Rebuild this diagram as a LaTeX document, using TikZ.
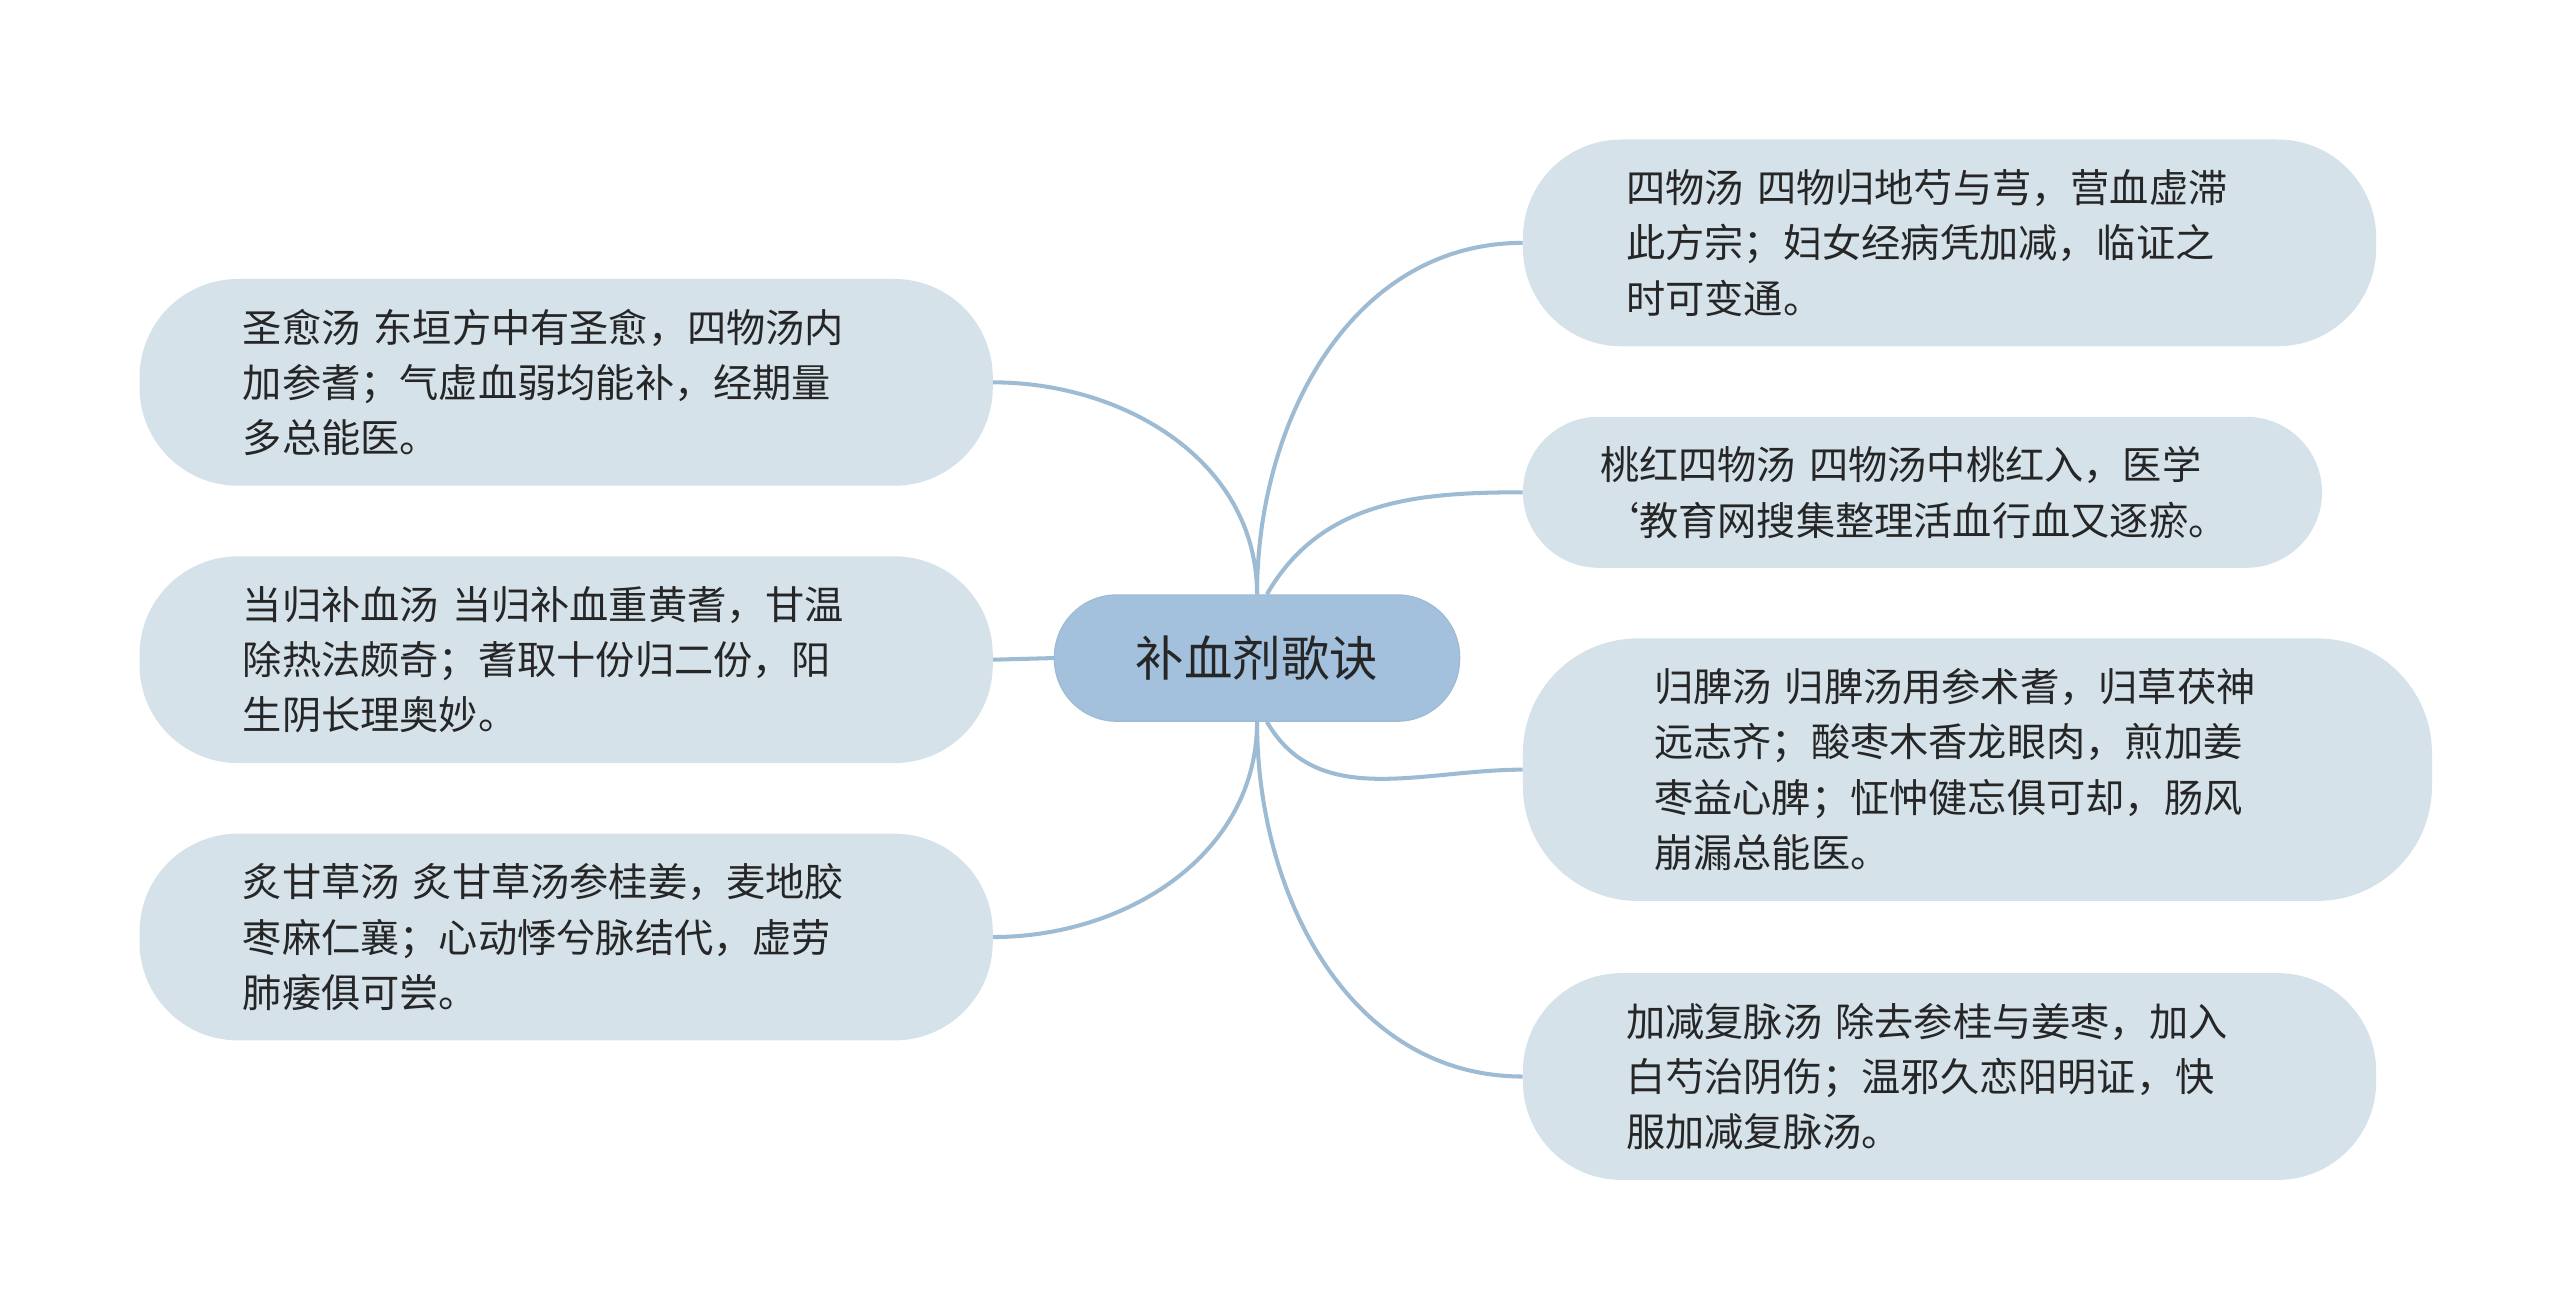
\documentclass[tikz,border=0pt]{standalone}
\usepackage{fontspec}
\setmainfont{Noto Sans CJK SC}
\begin{document}
\begin{tikzpicture}[x=0.05cm,y=-0.05cm,
  leaf/.style={draw=none,fill=leafc,rounded corners=3cm,align=left,font=\fontsize{34}{48}\selectfont,text=black!85},
  link/.style={draw=linkc,line width=3.5pt}]
\definecolor{leafc}{HTML}{D5E2EA}
\definecolor{rootc}{HTML}{A3C1DC}
\definecolor{linkc}{HTML}{9DBBD3}
\useasboundingbox (0,0) rectangle (1560,800);
\node[fill=rootc,rounded corners=1.9cm,minimum width=12.35cm,minimum height=3.85cm,font=\fontsize{42}{50}\selectfont,text=black!85,draw=linkc,line width=1pt] (c) at (766,401) {补血剂歌诀};
\node[leaf,inner xsep=3.15cm,text width=19.7cm,minimum height=6.3cm] (l1) at (345,233) {圣愈汤 东垣方中有圣愈，四物汤内\\加参耆；气虚血弱均能补，经期量\\多总能医。};
\node[leaf,inner xsep=3.15cm,text width=19.7cm,minimum height=6.3cm] (l2) at (345,402) {当归补血汤 当归补血重黄耆，甘温\\除热法颇奇；耆取十份归二份，阳\\生阴长理奥妙。};
\node[leaf,inner xsep=3.15cm,text width=19.7cm,minimum height=6.3cm] (l3) at (345,571) {炙甘草汤 炙甘草汤参桂姜，麦地胶\\枣麻仁襄；心动悸兮脉结代，虚劳\\肺痿俱可尝。};
\node[leaf,inner xsep=3.15cm,text width=19.7cm,minimum height=6.3cm] (r1) at (1188,148) {四物汤 四物归地芍与芎，营血虚滞\\此方宗；妇女经病凭加减，临证之\\时可变通。};
\node[leaf,rounded corners=2.3cm,inner xsep=2.35cm,text width=19.65cm,minimum height=4.6cm] (r2) at (1171.5,300) {桃红四物汤 四物汤中桃红入，医学\\`教育网搜集整理活血行血又逐瘀。};
\node[leaf,rounded corners=3.5cm,inner xsep=4cm,text width=19.7cm,minimum height=8cm] (r3) at (1205,469) {归脾汤 归脾汤用参术耆，归草茯神\\远志齐；酸枣木香龙眼肉，煎加姜\\枣益心脾；怔忡健忘俱可却，肠风\\崩漏总能医。};
\node[leaf,inner xsep=3.15cm,text width=19.7cm,minimum height=6.3cm] (r4) at (1188,656) {加减复脉汤 除去参桂与姜枣，加入\\白芍治阴伤；温邪久恋阳明证，快\\服加减复脉汤。};
\begin{scope}[on background layer/.try]
\end{scope}
\draw[link] (c.north) to[out=90,in=0] (l1.east);
\draw[link] (c.west) -- (l2.east);
\draw[link] (c.south) to[out=-90,in=0] (l3.east);
\draw[link] (c.north) to[out=90,in=180] (r1.west);
\draw[link] ([xshift=0.3cm]c.north) to[out=60,in=180] (r2.west);
\draw[link] ([xshift=0.3cm]c.south) to[out=-60,in=180] (r3.west);
\draw[link] (c.south) to[out=-90,in=180] (r4.west);
\end{tikzpicture}
\end{document}
